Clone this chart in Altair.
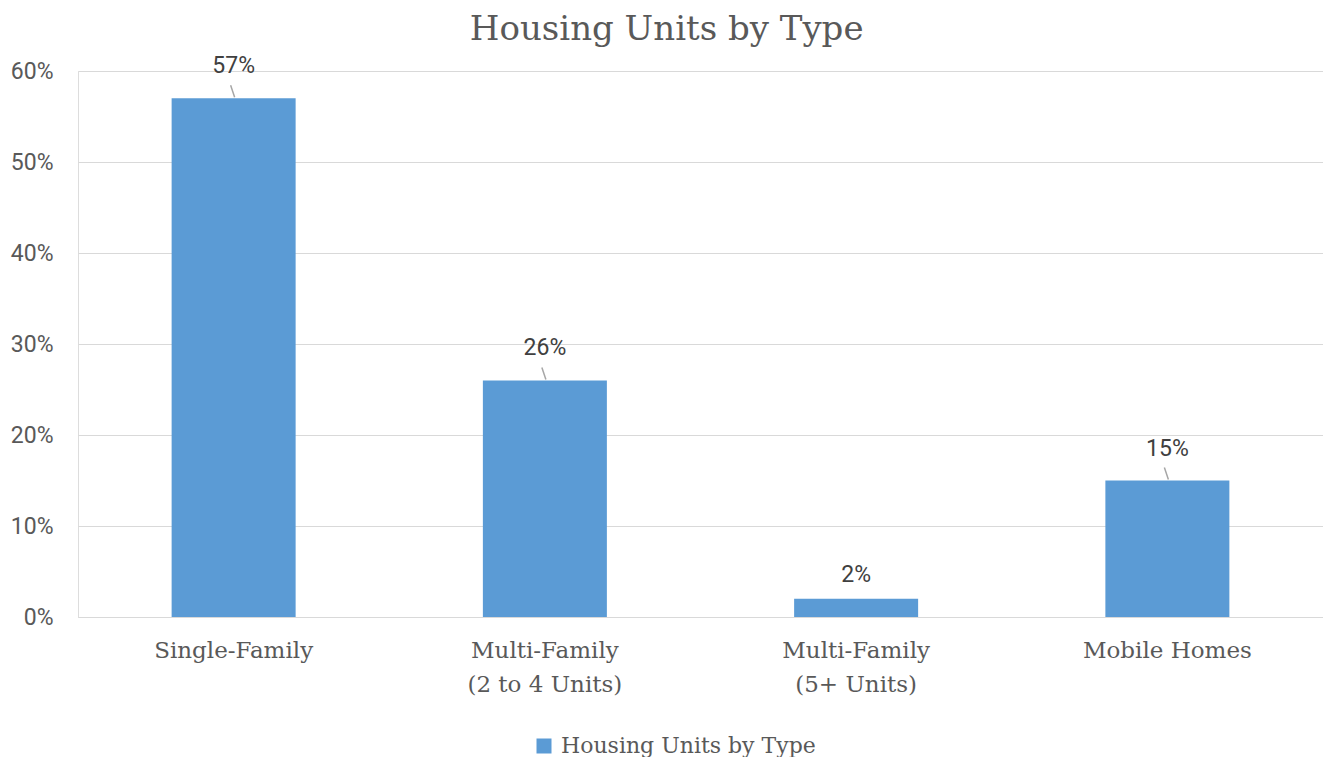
import altair as alt
import pandas as pd

categories = ["Single-Family", "Multi-Family\n(2 to 4 Units)", "Multi-Family\n(5+ Units)", "Mobile Homes"]
values = [0.57, 0.26, 0.02, 0.15]
series_name = "Housing Units by Type"
y_ticks = [0, 0.1, 0.2, 0.3, 0.4, 0.5, 0.6]

df = pd.DataFrame({"cat": categories, "value": values, "series": series_name})

SERIF = "DejaVu Serif"
SANS = "Roboto"
BLUE = "#5B9BD5"

x_enc = alt.X("cat:N", sort=categories, title=None,
              scale=alt.Scale(paddingInner=0.6, paddingOuter=0.3),
              axis=alt.Axis(labelAngle=0, labelFont=SERIF, labelFontSize=23, labelColor="#595959",
                            labelExpr="split(datum.label, '\\n')", labelLineHeight=34,
                            labelPadding=22, labelBaseline="top", ticks=False, labelLimit=400,
                            domain=True, domainColor="#d9d9d9", domainWidth=1, grid=False))
y_enc = alt.Y("value:Q", title=None,
              scale=alt.Scale(domain=[0, 0.6], nice=False),
              axis=alt.Axis(values=y_ticks, format=".0%", labelFont=SANS, labelFontSize=23,
                            labelColor="#595959", labelPadding=25, ticks=False, domain=False,
                            grid=True, gridColor="#d9d9d9", gridWidth=1))

bars = alt.Chart(df).mark_bar(size=124).encode(
    x=x_enc,
    y=y_enc,
    color=alt.Color("series:N", title=None,
                    scale=alt.Scale(range=[BLUE]),
                    legend=alt.Legend(orient="none", legendX=455, legendY=664, symbolType="square",
                                      symbolSize=225, symbolStrokeWidth=0, labelFont=SERIF,
                                      labelFontSize=22, labelColor="#595959", labelOffset=6,
                                      labelLimit=500, padding=0)),
)

labels_big = alt.Chart(df).transform_filter("datum.value >= 0.05").mark_text(
    font=SANS, fontSize=23, color="#404040", baseline="middle", dy=-32
).encode(x=alt.X("cat:N", sort=categories), y="value:Q", text=alt.Text("value:Q", format=".0%"))

labels_small = alt.Chart(df).transform_filter("datum.value < 0.05").mark_text(
    font=SANS, fontSize=23, color="#404040", baseline="middle", dy=-24
).encode(x=alt.X("cat:N", sort=categories), y="value:Q", text=alt.Text("value:Q", format=".0%"))

leaders = alt.Chart(df).transform_filter("datum.value >= 0.05").mark_rule(
    color="#a6a6a6", strokeWidth=1.5, yOffset=-1, y2Offset=-13, xOffset=1, x2Offset=-3
).encode(
    x=alt.X("cat:N", sort=categories, bandPosition=0.5),
    x2=alt.X2("cat:N", bandPosition=0.5),
    y="value:Q",
    y2="value:Q",
)

chart = alt.layer(bars, leaders, labels_big, labels_small).properties(
    width=1245, height=546,
    title=alt.TitleParams(series_name, font=SERIF, fontSize=34, fontWeight="normal", color="#595959",
                          anchor="middle", frame="bounds", baseline="bottom", offset=-26),
    padding={"left": 2, "top": 5, "right": 0, "bottom": 0},
).configure_view(stroke=None).configure(background="white")

chart.save("out.html", embed_options={"renderer": "svg", "actions": False})
